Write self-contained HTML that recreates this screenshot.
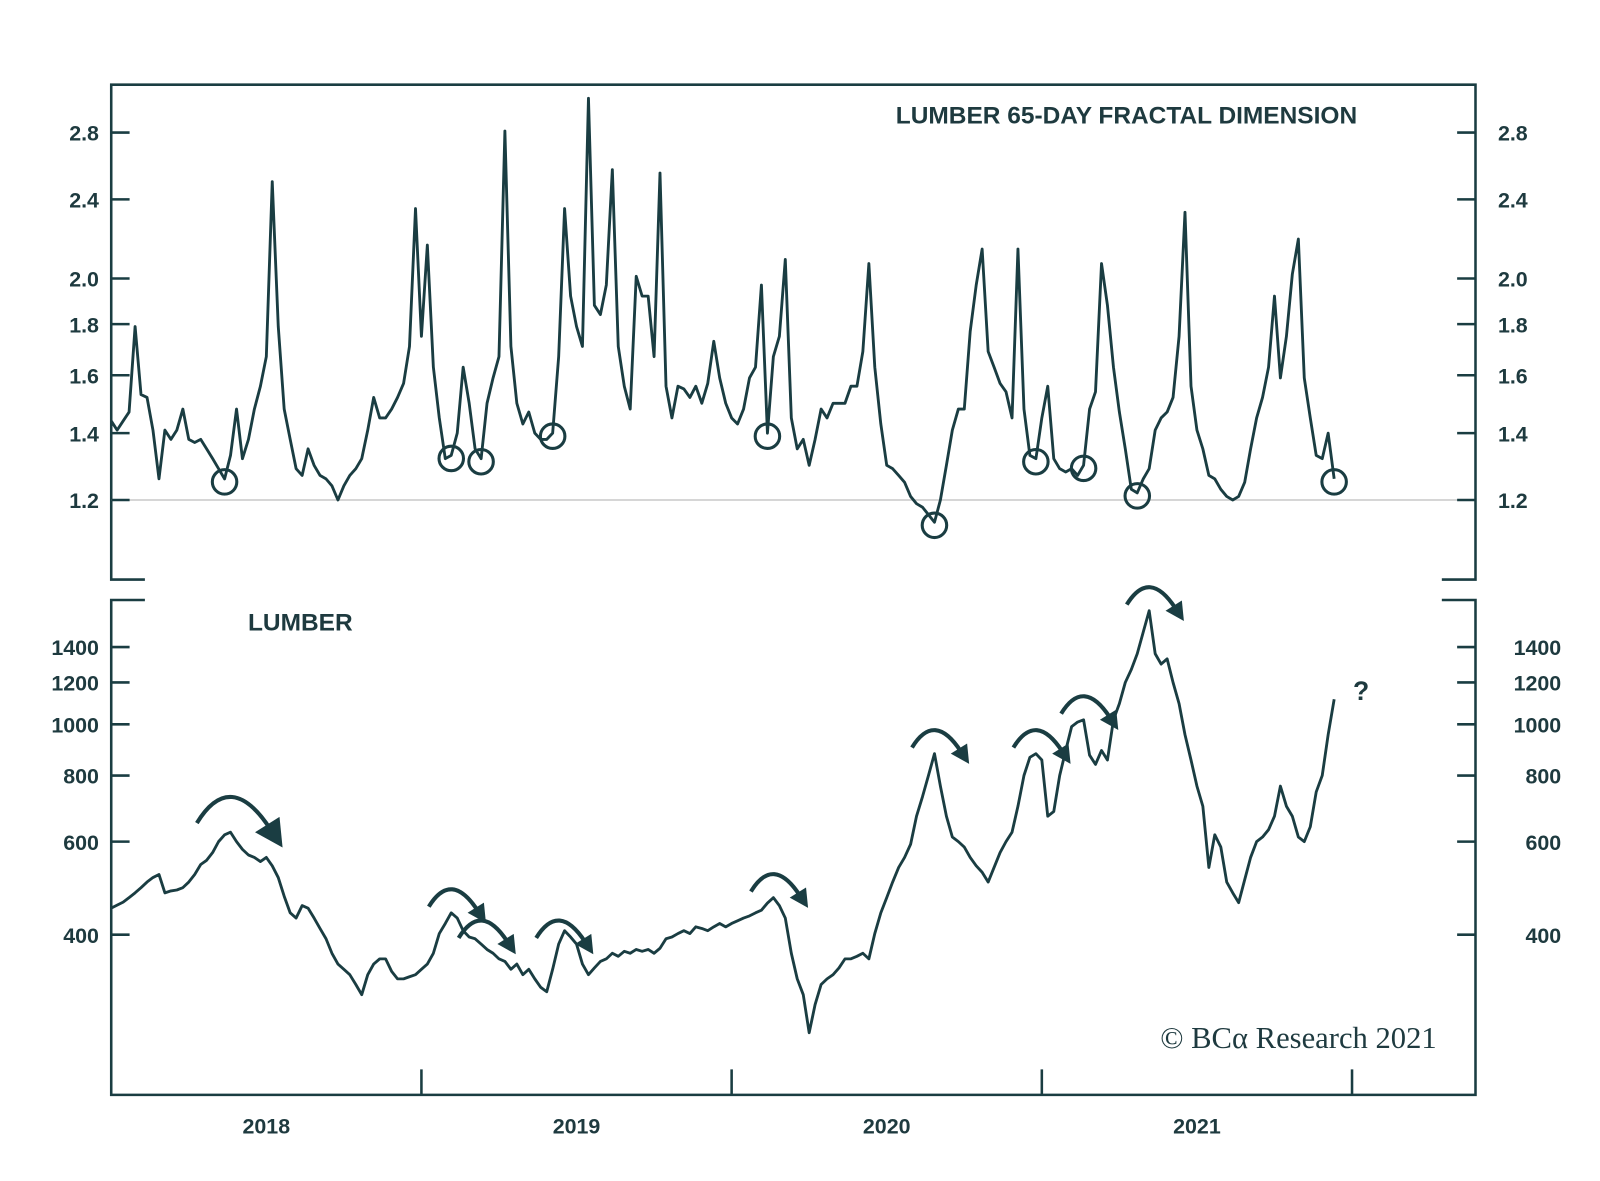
<!DOCTYPE html>
<html><head><meta charset="utf-8">
<style>
html,body{margin:0;padding:0;background:#fff;}
svg{display:block;}
text{font-family:"Liberation Sans",sans-serif;font-weight:bold;fill:#1e3a3f;}
</style></head>
<body>
<svg id="chart" width="1600" height="1181" viewBox="0 0 1600 1181" xmlns="http://www.w3.org/2000/svg">
<g id="root" transform="scale(1.0204)">
<g id="frame" stroke="#1a3d42" stroke-width="2.5" fill="none">
  <path d="M142,568 H109 V83 H1446 V568 H1413"/>
  <path d="M142,588 H109 V1073 H1446 V588 H1413"/>
</g>
<line x1="109" y1="490" x2="1446" y2="490" stroke="#c8c8c8" stroke-width="1.5"/>
<g id="axes"></g>
<g id="series"></g>
<text x="1330" y="121" text-anchor="end" font-size="24">LUMBER 65-DAY FRACTAL DIMENSION</text>
<text x="243" y="618" font-size="24">LUMBER</text>
<text x="1326" y="686" font-size="26">?</text>
<text x="1408" y="1027" text-anchor="end" font-size="30" style="font-family:'Liberation Serif',serif;font-weight:normal">© BCα Research 2021</text>
</g>
</svg>
<script>
const fractalValues = [1.44,1.41,1.44,1.47,1.79,1.53,1.52,1.41,1.26,1.41,1.38,1.41,1.48,1.38,1.37,1.38,1.35,1.32,1.29,1.26,1.33,1.48,1.32,1.38,1.48,1.56,1.67,2.50,1.79,1.48,1.38,1.29,1.27,1.35,1.30,1.27,1.26,1.24,1.20,1.24,1.27,1.29,1.32,1.41,1.52,1.45,1.45,1.48,1.52,1.57,1.71,2.35,1.75,2.16,1.63,1.45,1.32,1.33,1.40,1.63,1.50,1.35,1.32,1.50,1.59,1.67,2.81,1.71,1.50,1.43,1.47,1.40,1.38,1.38,1.40,1.67,2.35,1.92,1.79,1.71,3.03,1.88,1.84,1.97,2.57,1.71,1.56,1.48,2.01,1.92,1.92,1.67,2.55,1.56,1.45,1.56,1.55,1.52,1.56,1.50,1.57,1.73,1.59,1.50,1.45,1.43,1.48,1.59,1.63,1.97,1.40,1.67,1.75,2.09,1.45,1.35,1.38,1.30,1.38,1.48,1.45,1.50,1.50,1.50,1.56,1.56,1.69,2.07,1.63,1.43,1.30,1.29,1.27,1.25,1.21,1.19,1.18,1.16,1.14,1.20,1.30,1.41,1.48,1.48,1.77,1.97,2.14,1.69,1.63,1.57,1.54,1.45,2.14,1.48,1.33,1.32,1.45,1.56,1.32,1.29,1.28,1.29,1.27,1.30,1.48,1.54,2.07,1.88,1.63,1.47,1.35,1.23,1.22,1.26,1.29,1.41,1.45,1.47,1.52,1.75,2.33,1.56,1.41,1.35,1.27,1.26,1.23,1.21,1.20,1.21,1.25,1.35,1.45,1.52,1.63,1.92,1.59,1.75,2.02,2.19,1.59,1.45,1.33,1.32,1.40,1.26];
const lumberValues = [449,455,461,470,480,491,503,513,520,480,484,486,491,503,520,543,553,572,600,618,625,600,580,566,560,550,560,540,513,473,440,430,454,449,430,411,393,369,352,344,336,322,308,336,352,360,360,341,330,330,333,336,344,352,369,402,420,440,430,407,396,393,384,375,369,360,356,344,352,336,344,330,318,312,344,384,407,396,384,352,336,346,356,360,369,364,372,369,375,372,375,369,377,393,396,402,407,402,414,411,407,414,420,414,420,425,430,434,440,445,459,470,454,430,369,330,308,261,295,322,330,336,346,360,360,364,369,360,402,440,470,503,536,560,593,670,730,800,880,764,670,612,600,586,560,540,525,503,536,572,600,625,700,800,866,880,856,670,684,800,892,990,1010,1020,874,840,892,856,1020,1094,1200,1270,1360,1495,1640,1360,1300,1330,1200,1094,956,856,764,700,536,618,586,503,480,460,508,560,600,612,632,670,764,700,670,612,600,640,745,800,956,1115];
const fractalTicks = [1.2,1.4,1.6,1.8,2.0,2.4,2.8];
const lumberTicks = [400,600,800,1000,1200,1400];
const yearLabels = ["2018","2019","2020","2021"];
const circleWeeks = [19,57,62,74,110,138,155,163,172,205];
const arrowWeeks = [20,57,62,75,111,138,155,163,174];

const NS="http://www.w3.org/2000/svg";
const COL="#1a3d42";
const X0=109, YEARPX=304, WEEKPX=YEARPX/52;
function xWeek(i){return X0+WEEKPX*i;}
function xYear(y){return X0+YEARPX*(y-2018);}
function yTop(v){return 490-425*Math.log(v/1.2);}
function yBot(v){return 916-225*Math.log(v/400);}
function mk(tag,attrs,parent){const e=document.createElementNS(NS,tag);for(const k in attrs)e.setAttribute(k,attrs[k]);parent.appendChild(e);return e;}
const axes=document.getElementById('axes'), ser=document.getElementById('series');

fractalTicks.forEach(v=>{
  const y=yTop(v);
  const l1=mk('line',{x1:109,x2:127,y1:y,y2:y,stroke:COL,'stroke-width':2.5},axes);
  
  
  const l2=mk('line',{x1:1428,x2:1446,y1:y,y2:y,stroke:COL,'stroke-width':2.5},axes);
  
  
  const t1=mk('text',{x:97,y:y+8,'text-anchor':'end','font-size':21},axes);
  t1.textContent=v.toFixed(1);
  
  
  const t2=mk('text',{x:1468,y:y+8,'font-size':21},axes);
  t2.textContent=v.toFixed(1);
  
  
});
lumberTicks.forEach(v=>{
  const y=yBot(v);
  const l1=mk('line',{x1:109,x2:127,y1:y,y2:y,stroke:COL,'stroke-width':2.5},axes);
  
  
  const l2=mk('line',{x1:1428,x2:1446,y1:y,y2:y,stroke:COL,'stroke-width':2.5},axes);
  
  
  const t1=mk('text',{x:97,y:y+8,'text-anchor':'end','font-size':21},axes);
  t1.textContent=String(v);
  
  
  const t2=mk('text',{x:1530,y:y+8,'text-anchor':'end','font-size':21},axes);
  t2.textContent=String(v);
  
  
});
yearLabels.forEach((lab,k)=>{
  const yr=2018+k;
  const tx=xYear(yr+1);
  const l=mk('line',{x1:tx,x2:tx,y1:1048,y2:1073,stroke:COL,'stroke-width':2.5},axes);
  
  
  const t=mk('text',{x:xYear(yr+0.5),y:1111,'text-anchor':'middle','font-size':21},axes);
  t.textContent=lab;
  
  
});

const p1=mk('path',{d:fractalValues.map((v,i)=>(i?'L':'M')+xWeek(i).toFixed(1)+','+yTop(v).toFixed(1)).join(''),fill:'none',stroke:COL,'stroke-width':2.8,'stroke-linejoin':'round'},ser);


const p2=mk('path',{d:lumberValues.map((v,i)=>(i?'L':'M')+xWeek(i).toFixed(1)+','+yBot(v).toFixed(1)).join(''),fill:'none',stroke:COL,'stroke-width':2.8,'stroke-linejoin':'round'},ser);



circleWeeks.forEach(i=>{
  const c=mk('circle',{cx:xWeek(i),cy:yTop(fractalValues[i])+3,r:12,fill:'none',stroke:COL,'stroke-width':3},ser);
  
  
});
arrowWeeks.forEach((i,k)=>{
  const cx=xWeek(i), cy=yBot(lumberValues[i]);
  const s=k===0?1.5:1;
  const x1=cx-22*s, y1=cy-6*s, x2=cx+26*s, y2=cy-2*s;
  const g=mk('g',{},ser);
  
  
  mk('path',{d:`M${x1},${y1} Q${cx},${cy-42*s} ${x2},${y2}`,fill:'none',stroke:COL,'stroke-width':4},g);
  mk('path',{d:`M${x2+8*s},${y2+12*s} L${x2-10*s},${y2+2*s} L${x2+6*s},${y2-8*s} Z`,fill:COL},g);
});
</script>
</body></html>
